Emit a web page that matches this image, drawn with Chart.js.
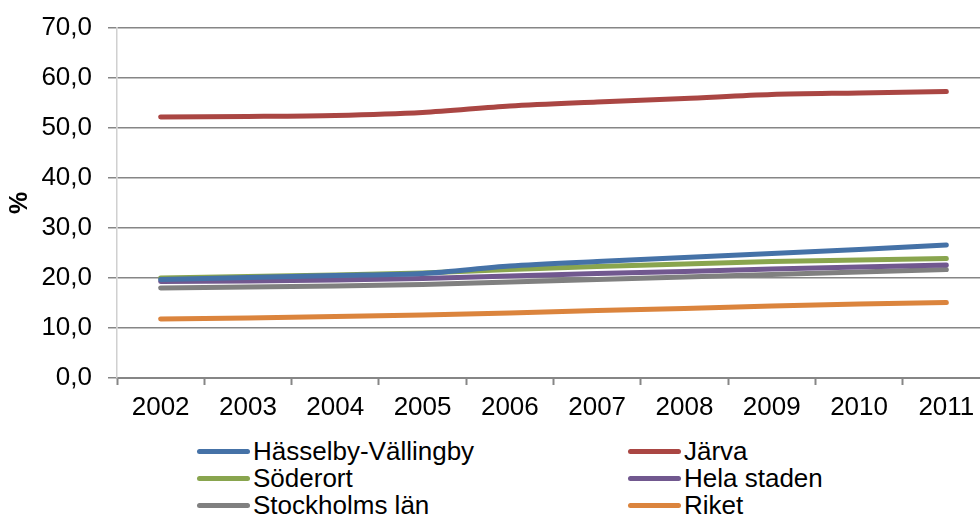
<!DOCTYPE html>
<html>
<head>
<meta charset="utf-8">
<script src="https://cdn.jsdelivr.net/npm/chart.js@4.4.1/dist/chart.umd.min.js"></script>
<style>
  body { margin: 0; background: #fff; overflow: hidden; width: 980px; height: 515px; position: relative; }
  #wrap { position: absolute; left: 0; top: 0; }
  #legend { position: absolute; left: 0; top: 438px; font-family: "Liberation Sans", Arial, sans-serif; font-size: 26px; color: #000; }
  .item { position: absolute; display: flex; align-items: center; white-space: nowrap; height: 27px; }
  .item .sw { width: 53px; height: 5px; border-radius: 3px; margin-right: 3px; }
</style>
</head>
<body>
<div id="wrap"><canvas id="chart" width="995" height="432"></canvas></div>
<div id="legend"></div>
<script>
const years = ['2002', '2003', '2004', '2005', '2006', '2007', '2008', '2009', '2010', '2011']
const seriesNames = ['Hässelby-Vällingby', 'Järva', 'Söderort', 'Hela staden', 'Stockholms län', 'Riket']
const seriesColors = ['#4572A7', '#AA4643', '#89A54E', '#71588F', '#808080', '#DB843D']

const hasselbyVallingby = [19.7, 20.1, 20.5, 20.9, 22.4, 23.3, 24.1, 24.9, 25.7, 26.6]
const jarva = [52.2, 52.3, 52.5, 53.1, 54.4, 55.2, 55.9, 56.7, 57.0, 57.3]
const soderort = [20.0, 20.3, 20.6, 21.0, 21.7, 22.3, 22.8, 23.3, 23.6, 23.9]
const helaStaden = [19.3, 19.4, 19.6, 19.9, 20.4, 20.9, 21.3, 21.8, 22.2, 22.6]
const stockholmsLan = [18.0, 18.2, 18.4, 18.7, 19.2, 19.7, 20.2, 20.7, 21.2, 21.7]
const riket = [11.8, 12.0, 12.3, 12.6, 13.0, 13.5, 13.9, 14.4, 14.8, 15.1]

const yTicks = [0, 10, 20, 30, 40, 50, 60, 70]

const allValues = [hasselbyVallingby, jarva, soderort, helaStaden, stockholmsLan, riket]
const FONT = '"Liberation Sans", Arial, sans-serif'

const ctx = document.getElementById('chart').getContext('2d')
new Chart(ctx, {
  type: 'line',
  data: {
    labels: years,
    datasets: allValues.map((vals, i) => ({
      label: seriesNames[i],
      data: vals,
      borderColor: seriesColors[i],
      backgroundColor: seriesColors[i],
      borderWidth: 5,
      borderCapStyle: 'round',
      pointRadius: 0,
      tension: 0.3,
      fill: false
    }))
  },
  options: {
    responsive: false,
    animation: false,
    devicePixelRatio: 1,
    layout: { padding: { top: 10, right: 5, left: 0, bottom: 0 } },
    plugins: {
      legend: { display: false },
      tooltip: { enabled: false }
    },
    scales: {
      x: {
        offset: true,
        grid: {
          offset: true,
          drawOnChartArea: false,
          drawTicks: true,
          tickLength: 7,
          tickColor: '#868686',
          tickWidth: 2
        },
        border: { color: '#868686', width: 2 },
        ticks: { color: '#000', font: { family: FONT, size: 26 }, padding: 7, maxRotation: 0 },
        afterFit: scale => { scale.height = 432 - 378 }
      },
      y: {
        min: 0,
        max: 70,
        afterBuildTicks: scale => { scale.ticks = yTicks.map(v => ({ value: v })) },
        grid: {
          color: '#868686',
          lineWidth: 1.5,
          drawTicks: true,
          tickLength: 9,
          tickColor: '#868686'
        },
        border: { color: '#d0d0d0', width: 1.5 },
        ticks: {
          color: '#000',
          font: { family: FONT, size: 26, lineHeight: 0.92 },
          padding: 16,
          callback: v => v.toFixed(1).replace('.', ',')
        },
        title: {
          display: true,
          text: '%',
          color: '#000',
          font: { family: FONT, size: 25, weight: 'bold' },
          padding: { top: 5, bottom: 0 }
        },
        afterFit: scale => { scale.width = 117 }
      }
    }
  }
})

// legend in two columns like the original
const legend = document.getElementById('legend')
const colX = [197, 628]
seriesNames.forEach((name, i) => {
  const item = document.createElement('div')
  item.className = 'item'
  item.style.left = colX[i % 2] + 'px'
  item.style.top = (Math.floor(i / 2) * 27) + 'px'
  const sw = document.createElement('span')
  sw.className = 'sw'
  sw.style.background = seriesColors[i]
  const txt = document.createElement('span')
  txt.textContent = name
  item.appendChild(sw)
  item.appendChild(txt)
  legend.appendChild(item)
})
</script>
</body>
</html>
